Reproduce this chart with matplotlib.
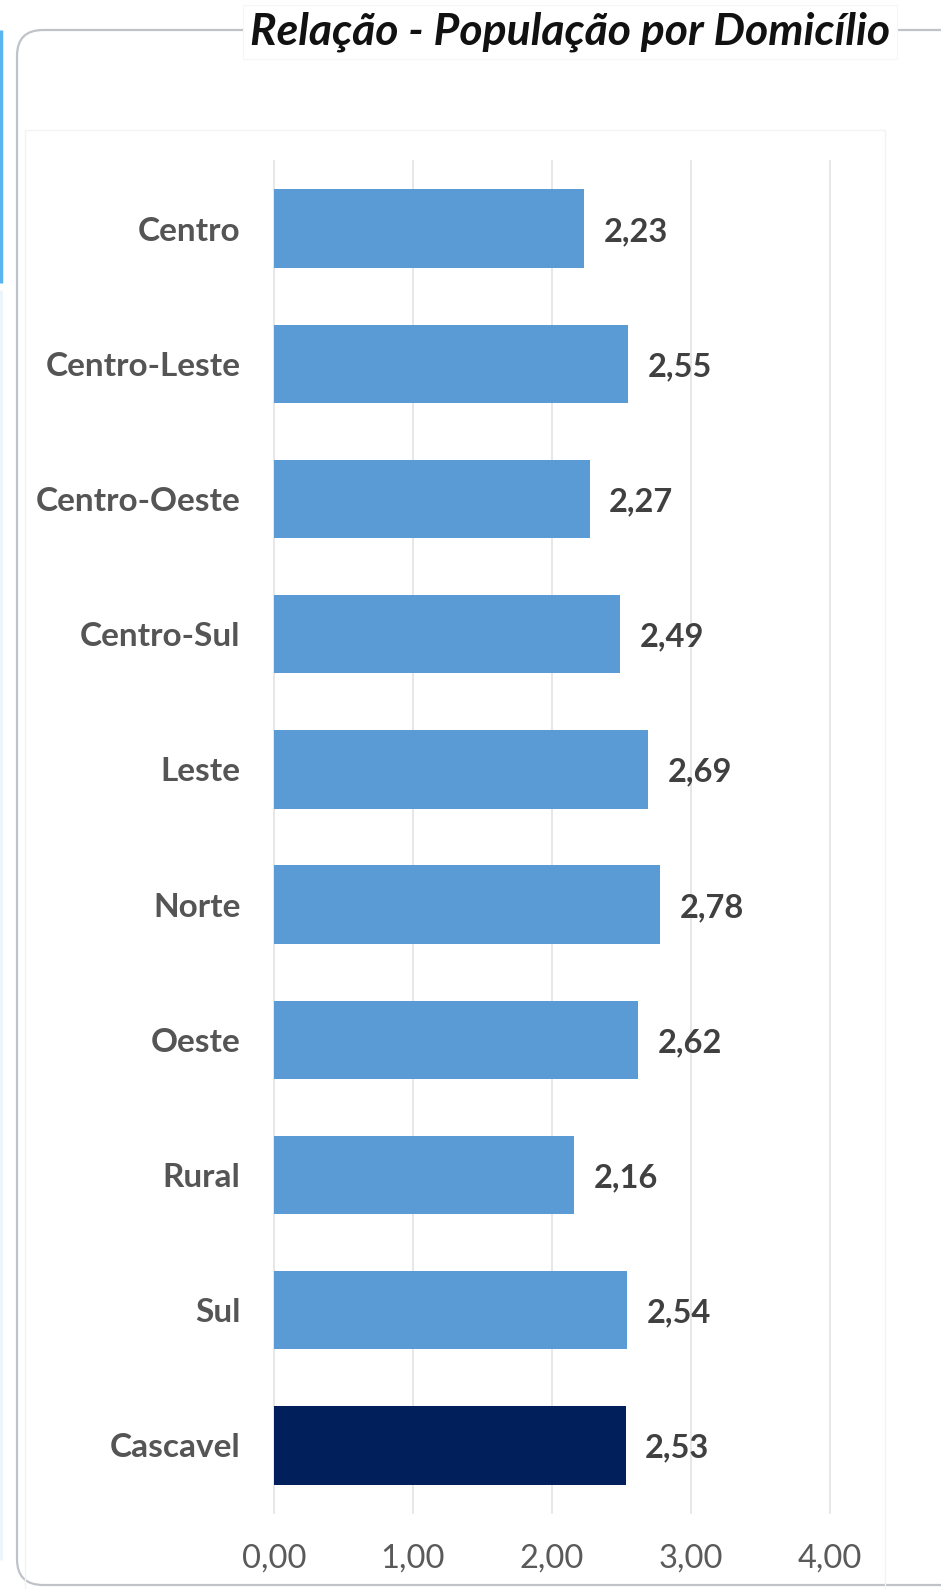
import matplotlib.pyplot as plt
from matplotlib.patches import FancyBboxPatch, Rectangle

# bairros / regiões e relação população por domicílio
regioes = ["Centro", "Centro-Leste", "Centro-Oeste", "Centro-Sul", "Leste",
           "Norte", "Oeste", "Rural", "Sul", "Cascavel"]
valores = [2.23, 2.55, 2.27, 2.49, 2.69, 2.78, 2.62, 2.16, 2.54, 2.53]
cores = ["#5B9BD5"] * 9 + ["#001F5B"]
ticks = [0, 1, 2, 3, 4]
tick_labels = ["0,00", "1,00", "2,00", "3,00", "4,00"]
titulo = "Relação - População por Domicílio"

plt.rcParams['font.family'] = ['Lato', 'DejaVu Sans']

W, H = 941, 1589
fig = plt.figure(figsize=(W / 100, H / 100), dpi=100)

# fundo em pixels para a moldura arredondada e o título
bg = fig.add_axes([0, 0, 1, 1], zorder=0)
bg.set_xlim(0, W)
bg.set_ylim(H, 0)
bg.axis("off")
moldura = FancyBboxPatch((17, 30), 980, 1555,
                         boxstyle="round,pad=0,rounding_size=26",
                         fc="white", ec="#BFC3C8", lw=1.6)
bg.add_patch(moldura)
bg.add_patch(Rectangle((25, 130), 860, 1500, fc="none", ec="#F3F3F3", lw=1))
bg.plot([1.5, 1.5], [30, 283], color="#5AB4F0", lw=2.5, solid_capstyle="butt")
bg.plot([1.5, 1.5], [290, 1560], color="#EAF4FC", lw=2, solid_capstyle="butt")
bg.text(570, 32, titulo, ha="center", va="center", fontsize=32,
        fontweight="bold", fontstyle="italic", color="#111111",
        bbox=dict(fc="white", ec="#F6F6F6", lw=0.8, pad=5))

ax = fig.add_axes([274 / W, 76 / H, 556 / W, 1352 / H], zorder=1)
ax.patch.set_alpha(0)
y = list(range(len(regioes)))
ax.barh(y, valores, height=0.58, color=cores, zorder=2)
ax.set_ylim(len(regioes) - 0.5, -0.5)
ax.set_xlim(0, 4)

for yi, v in zip(y, valores):
    ax.annotate(f"{v:.2f}".replace(".", ","), (v, yi), xytext=(14, -2),
                textcoords="offset points", ha="left", va="center",
                fontsize=23.5, fontweight="bold", color="#404040")

ax.set_yticks(y)
ax.set_yticklabels(regioes, fontsize=24, fontweight="bold", color="#555555")
ax.set_xticks(ticks)
ax.set_xticklabels(tick_labels, fontsize=23.5, color="#5A5A5A")
ax.tick_params(axis="y", length=0, pad=24)
ax.tick_params(axis="x", length=0, pad=22)
ax.xaxis.grid(True, color="#E3E3E3", lw=1.2, zorder=0)
ax.set_axisbelow(True)
for s in ax.spines.values():
    s.set_visible(False)
for t in ax.get_xgridlines():
    t.set_clip_on(False)

fig.savefig("out.png", dpi=100)
